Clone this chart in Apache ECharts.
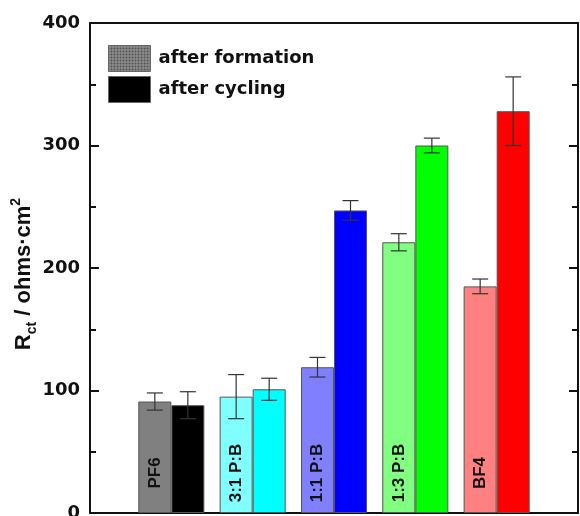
<!DOCTYPE html>
<html>
<head>
<meta charset="utf-8">
<script src="https://cdn.jsdelivr.net/npm/echarts@6/dist/echarts.min.js"></script>
<style>
html,body{margin:0;padding:0;background:#fff;}
#chart{width:580px;height:516px;}
</style>
</head>
<body>
<div id="chart"></div>
<script>
// ---- data ----
var categories = ['PF6', '3:1 P:B', '1:1 P:B', '1:3 P:B', 'BF4'];
var seriesNames = ['after formation', 'after cycling'];
var formation = [91, 95, 119, 221, 185];
var formationErr = [7, 18, 8, 7, 6];
var cycling = [88, 101, 247, 300, 328];
var cyclingErr = [11, 9, 8, 6, 28];
var formationColors = ['#808080', '#80ffff', '#8080ff', '#80ff80', '#ff8080'];
var cyclingColors = ['#000000', '#00ffff', '#0000ff', '#00ff00', '#ff0000'];
var yTicks = [0, 100, 200, 300, 400];

// ---- build ----
var BAR_RATIO = 0.406;
var barBorder = '#555555';

function pattern() {
  var c = document.createElement('canvas');
  c.width = 3; c.height = 3;
  var g = c.getContext('2d');
  g.fillStyle = '#9a9a9a'; g.fillRect(0, 0, 3, 3);
  g.fillStyle = '#505050'; g.fillRect(0, 0, 1, 1); g.fillRect(2, 2, 1, 1); g.fillRect(2,0,1,1); g.fillRect(0,2,1,1);
  return c;
}

var fData = formation.map(function (v, i) {
  return { value: [i + 1, v], itemStyle: { color: formationColors[i] }, label: { formatter: categories[i] } };
});
var cData = cycling.map(function (v, i) {
  return { value: [i + 1, v], itemStyle: { color: cyclingColors[i] } };
});
var errData = [];
formation.forEach(function (v, i) { errData.push([i + 1, v, formationErr[i], -1]); });
cycling.forEach(function (v, i) { errData.push([i + 1, v, cyclingErr[i], 1]); });

function renderErr(params, api) {
  var x = api.value(0), v = api.value(1), e = api.value(2), s = api.value(3);
  var band = api.size([1, 0])[0];
  var off = s * band * BAR_RATIO / 2;
  var top = api.coord([x, v + e]);
  var bot = api.coord([x, v - e]);
  var cx = top[0] + off;
  var cap = 8;
  var st = { stroke: '#333', lineWidth: 1.2 };
  return {
    type: 'group',
    children: [
      { type: 'line', shape: { x1: cx, y1: top[1], x2: cx, y2: bot[1] }, style: st },
      { type: 'line', shape: { x1: cx - cap, y1: top[1], x2: cx + cap, y2: top[1] }, style: st },
      { type: 'line', shape: { x1: cx - cap, y1: bot[1], x2: cx + cap, y2: bot[1] }, style: st }
    ]
  };
}

var chart = echarts.init(document.getElementById('chart'), null, { renderer: 'canvas' });
var axisLine = { show: true, onZero: false, lineStyle: { color: '#111', width: 2 } };

chart.setOption({
  animation: false,
  backgroundColor: '#fff',
  grid: { left: 90, right: 2, top: 23, bottom: 3, containLabel: false, outerBoundsMode: 'none' },
  legend: {
    orient: 'vertical', left: 108, top: 45, padding: 0,
    itemWidth: 42, itemHeight: 26, itemGap: 4, icon: 'rect',
    textStyle: { fontFamily: 'DejaVu Sans', fontWeight: 'bold', fontSize: 18, color: '#111', padding: [0, 0, 0, 3] },
    data: [
      { name: seriesNames[0], itemStyle: { color: { image: pattern(), repeat: 'repeat' }, borderColor: '#666', borderWidth: 1 } },
      { name: seriesNames[1], itemStyle: { color: '#000', borderColor: '#666', borderWidth: 1 } }
    ]
  },
  xAxis: [
    { type: 'value', min: 0, max: 6, position: 'bottom', axisLine: axisLine, axisTick: { show: false }, axisLabel: { show: false }, splitLine: { show: false } },
    { type: 'value', min: 0, max: 6, position: 'top', axisLine: axisLine, axisTick: { show: false }, axisLabel: { show: false }, splitLine: { show: false } }
  ],
  yAxis: [
    {
      type: 'value', min: yTicks[0], max: yTicks[yTicks.length - 1], interval: 100, position: 'left',
      axisLine: axisLine,
      axisTick: { show: true, inside: true, length: 9, lineStyle: { color: '#111', width: 2 } },
      minorTick: { show: true, splitNumber: 2, length: 6, lineStyle: { color: '#111', width: 2 } },
      axisLabel: { margin: 10, fontFamily: 'DejaVu Sans', fontWeight: 'bold', fontSize: 18, color: '#111' },
      splitLine: { show: false },
      name: '{a|R}{s|ct}{a| / ohms·cm}{p|2}',
      nameLocation: 'middle', nameGap: 55, nameRotate: 90, nameMoveOverlap: false,
      nameTextStyle: {
        padding: [0, 12, 0, 0],
        rich: {
          a: { fontFamily: 'Liberation Sans', fontSize: 22, fontWeight: 'bold', color: '#111', verticalAlign: 'bottom', lineHeight: 26 },
          s: { fontFamily: 'Liberation Sans', fontSize: 14, fontWeight: 'bold', color: '#111', verticalAlign: 'bottom', lineHeight: 26, padding: [0, 0, -4, 0] },
          p: { fontFamily: 'Liberation Sans', fontSize: 14, fontWeight: 'bold', color: '#111', verticalAlign: 'top', lineHeight: 26, padding: [0, 0, 8, 0] }
        }
      }
    },
    {
      type: 'value', min: yTicks[0], max: yTicks[yTicks.length - 1], interval: 100, position: 'right',
      axisLine: axisLine,
      axisTick: { show: true, inside: true, length: 9, lineStyle: { color: '#111', width: 2 } },
      minorTick: { show: true, splitNumber: 2, length: 6, lineStyle: { color: '#111', width: 2 } },
      axisLabel: { show: false }, splitLine: { show: false }
    }
  ],
  series: [
    {
      name: seriesNames[0], type: 'bar', data: fData, barWidth: (BAR_RATIO * 100) + '%', barGap: '0%',
      itemStyle: { color: '#808080', borderColor: barBorder, borderWidth: 1 },
      label: {
        show: true, position: 'insideBottom', distance: 40, rotate: 90, align: 'center', verticalAlign: 'middle',
        fontFamily: 'Liberation Sans', fontWeight: 'bold', fontSize: 17, color: '#111'
      }
    },
    {
      name: seriesNames[1], type: 'bar', data: cData, barWidth: (BAR_RATIO * 100) + '%', barGap: '0%',
      itemStyle: { color: '#000', borderColor: barBorder, borderWidth: 1 }
    },
    {
      type: 'custom', renderItem: renderErr, data: errData, z: 5, silent: true,
      encode: { x: 0, y: 1 }
    }
  ]
});
</script>
</body>
</html>
